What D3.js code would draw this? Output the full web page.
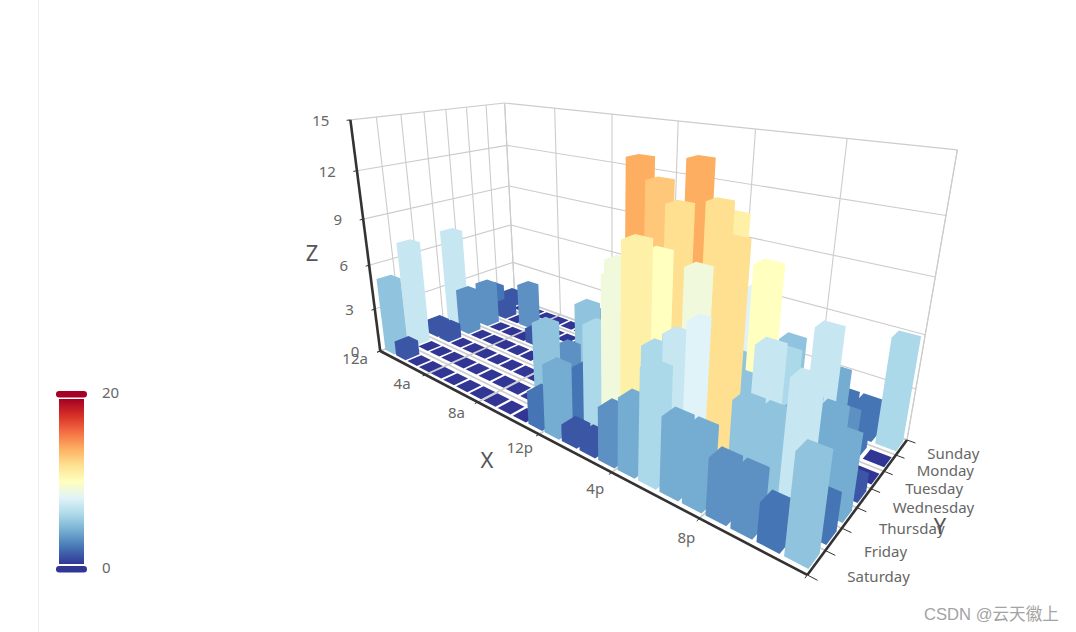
<!DOCTYPE html>
<html><head><meta charset="utf-8">
<script src="https://cdn.jsdelivr.net/npm/d3@7/dist/d3.min.js"></script>
<style>html,body{margin:0;padding:0;background:#fff;overflow:hidden}svg{display:block}text{font-family:"Noto Sans","Open Sans",sans-serif}</style>
</head><body><svg id="c" width="1076" height="632"></svg>
<script>
const hours=['12a','1a','2a','3a','4a','5a','6a','7a','8a','9a','10a','11a','12p','1p','2p','3p','4p','5p','6p','7p','8p','9p','10p','11p'];
const days=['Saturday','Friday','Thursday','Wednesday','Tuesday','Monday','Sunday'];
const saturday=[5,1,0,0,0,0,0,0,0,0,0,2,4,1,1,3,4,6,4,4,3,3,2,5];
const friday=[7,0,0,0,0,0,0,0,0,0,5,2,2,6,9,11,6,7,8,12,5,5,7,2];
const thursday=[1,1,0,0,0,0,0,0,0,0,3,2,1,9,8,10,6,5,5,5,7,4,2,4];
const wednesday=[7,3,0,0,0,0,0,0,1,0,5,4,7,14,13,12,9,5,5,10,6,4,4,1];
const tuesday=[1,3,0,0,0,1,0,0,0,2,4,4,2,4,4,14,12,1,8,5,3,7,3,0];
const monday=[2,1,0,3,0,0,0,0,2,0,4,1,5,10,5,7,11,6,0,5,3,4,2,0];
const sunday=[1,0,0,0,0,0,0,0,0,0,1,0,2,1,3,4,0,0,0,0,1,2,2,6];
const rows=[saturday,friday,thursday,wednesday,tuesday,monday,sunday];
const zTicks=[0,3,6,9,12,15];
const palette=['#313695','#4575b4','#74add1','#abd9e9','#e0f3f8','#ffffbf','#fee090','#fdae61','#f46d43','#d73027','#a50026'];
const vmMax=20;

// camera calibration: box corners (unit cube) -> screen
const calib=[[0,0,0,379,351],[1,0,0,807,575],[1,1,0,907,441],[0,1,0,516,298],[0,0,1,350,120],[0,1,1,504,103],[1,1,1,958,150],
[0,1,.2,513,262],[0,1,.4,511,225],[0,1,.6,508,187],[0,1,.8,507,145],[1,1,.8,946,216],[1,1,.6,935,277],[1,1,.4,925,335],[1,1,.2,916,387],[0,0,.8,357,170],[0,0,.6,365,219],[0,0,.4,370,265],[0,0,.2,374,310]];
function solve(A,b){const n=b.length,M=A.map((r,i)=>[...r,b[i]]);
 for(let i=0;i<n;i++){let p=i;for(let k=i+1;k<n;k++)if(Math.abs(M[k][i])>Math.abs(M[p][i]))p=k;[M[i],M[p]]=[M[p],M[i]];
  for(let k=0;k<n;k++)if(k!==i){const f=M[k][i]/M[i][i];for(let j=i;j<=n;j++)M[k][j]-=f*M[i][j];}}
 return M.map((r,i)=>r[n]/r[i]);}
function fit(pts){const R=[],B=[];pts.forEach(([X,Y,Z,u,v])=>{R.push([X,Y,Z,1,0,0,0,0,-u*X,-u*Y,-u*Z]);B.push(u);R.push([0,0,0,0,X,Y,Z,1,-v*X,-v*Y,-v*Z]);B.push(v);});
 const A=d3.range(11).map(i=>d3.range(11).map(j=>d3.sum(R,r=>r[i]*r[j])));const b=d3.range(11).map(i=>d3.sum(R,(r,k)=>r[i]*B[k]));return solve(A,b);}
const m=fit(calib);
const proj=(x,y,z)=>{const w=m[8]*x+m[9]*y+m[10]*z+1;return[(m[0]*x+m[1]*y+m[2]*z+m[3])/w,(m[4]*x+m[5]*y+m[6]*z+m[7])/w];};
const cam=solve([[m[0],m[1],m[2]],[m[4],m[5],m[6]],[m[8],m[9],m[10]]],[-m[3],-m[7],-1]);

const BAR_X=0.84,BAR_Y=0.62;
const xBand=d3.scaleBand().domain(d3.range(24)).range([0,1]).paddingInner(1-BAR_X).paddingOuter((1-BAR_X)/2);
const yBand=d3.scaleBand().domain(d3.range(7)).range([0,1]).paddingInner(1-BAR_Y).paddingOuter((1-BAR_Y)/2);
const zS=d3.scaleLinear().domain([0,15]).range([0,1]);
const color=d3.scaleLinear().domain(palette.map((_,i)=>i*vmMax/(palette.length-1))).range(palette);

const svg=d3.select('#c');
const line=d3.line();
svg.append('line').attr('x1',38.5).attr('x2',38.5).attr('y1',0).attr('y2',632).attr('stroke','#eeeeee');

// walls and floor grid
const grid=svg.append('g').attr('fill','none').attr('stroke','#cccccc').attr('stroke-width',1.1);
const seg=(g,a,b,w,c)=>g.append('path').attr('d',line([proj(...a),proj(...b)])).attr('stroke',c||null).attr('stroke-width',w||null);
zTicks.forEach(t=>{const z=zS(t);seg(grid,[0,0,z],[0,1,z]);seg(grid,[0,1,z],[1,1,z]);});
const xLines=d3.range(0,25,4).map(i=>i/24), yLines=d3.range(0,8).map(i=>i/7);
xLines.forEach(x=>{seg(grid,[x,1,0],[x,1,1]);seg(grid,[x,0,0],[x,1,0],1.6);});
yLines.forEach(y=>{seg(grid,[0,y,0],[0,y,1]);seg(grid,[0,y,0],[1,y,0],1.6);});
seg(grid,[1,1,0],[1,1,1]);

// bars
const bars=[];
rows.forEach((vals,d)=>vals.forEach((v,h)=>bars.push({h,d,v})));
const dist=b=>{const x=xBand(b.h)+xBand.bandwidth()/2,y=yBand(b.d)+yBand.bandwidth()/2;return Math.hypot(x-cam[0],y-cam[1]);};
bars.sort((a,b)=>dist(b)-dist(a));
svg.append('g').selectAll('path').data(bars).join('path')
 .attr('fill',b=>color(b.v))
 .attr('d',b=>{const x0=xBand(b.h),x1=x0+xBand.bandwidth(),y0=yBand(b.d),y1=y0+yBand.bandwidth(),z=zS(b.v);
   const pts=[];[x0,x1].forEach(x=>[y0,y1].forEach(y=>[0,z].forEach(q=>pts.push(proj(x,y,q)))));
   return line(d3.polygonHull(pts))+'Z';});

// axes
const ax=svg.append('g').attr('fill','none').attr('stroke','#333333');
seg(ax,[0,0,0],[1,0,0],2.6);seg(ax,[1,0,0],[1,1,0],2.6);seg(ax,[0,0,0],[0,0,1],2.6);
const label=(t,p,dx,dy,anchor,size,col)=>svg.append('text').text(t).attr('x',p[0]+dx).attr('y',p[1]+dy).attr('text-anchor',anchor).attr('dominant-baseline','central').attr('font-size',size).attr('fill',col);
const LAB='#666666';
zTicks.forEach(t=>{const z=zS(t);seg(ax,[0,0,z],[0,-0.02,z],1);label(t,proj(0,0,z),-21,0,'end',15,LAB);});
const hourDx=d3.scaleLinear().domain([0,1]).range([-2,11]);
d3.range(0,25,4).forEach(i=>{const x=i/24;seg(ax,[x,0,0],[x,-0.018,0],1);if(i<24)label(hours[i],proj(x,-0.14,0),hourDx(x),-2,'middle',15,LAB);});
const dayDx=d3.scaleLinear().domain([0,1]).range([40,30]),dayDy=d3.scaleLinear().domain([0,1]).range([1,-2]);
d3.range(0,8).forEach(i=>{const y=i/7;seg(ax,[1,y,0],[1.014,y,0],1);if(i<7)label(days[i],proj(1,y,0),dayDx(y),dayDy(y),'start',15,LAB);});
label('X',[487,459],0,0,'middle',22,'#555555');
label('Y',[940,525],0,0,'middle',22,'#555555');
label('Z',[312,252],0,0,'middle',22,'#555555');

// visual map
const defs=svg.append('defs');
const gr=defs.append('linearGradient').attr('id','vm').attr('x1',0).attr('y1',1).attr('x2',0).attr('y2',0);
palette.forEach((c,i)=>gr.append('stop').attr('offset',i/(palette.length-1)).attr('stop-color',c));
const vmY=d3.scaleLinear().domain([0,vmMax]).range([564,399]);
svg.append('rect').attr('x',59).attr('width',25).attr('y',vmY(vmMax)).attr('height',vmY(0)-vmY(vmMax)).attr('fill','url(#vm)');
[[vmMax,391],[0,566]].forEach(([v,y])=>{svg.append('rect').attr('x',56).attr('y',y).attr('width',31).attr('height',6.5).attr('rx',3.2).attr('fill',color(v));
 svg.append('text').text(v).attr('x',102).attr('y',y+1).attr('dominant-baseline','central').attr('font-size',15).attr('fill',LAB);});

svg.append('text').text('CSDN @云天徽上').attr('x',924).attr('y',614).attr('dominant-baseline','central').attr('font-size',16.6).attr('fill','#a3a3a3').style('font-family','"Liberation Sans","Noto Sans CJK SC",sans-serif');
</script></body></html>
